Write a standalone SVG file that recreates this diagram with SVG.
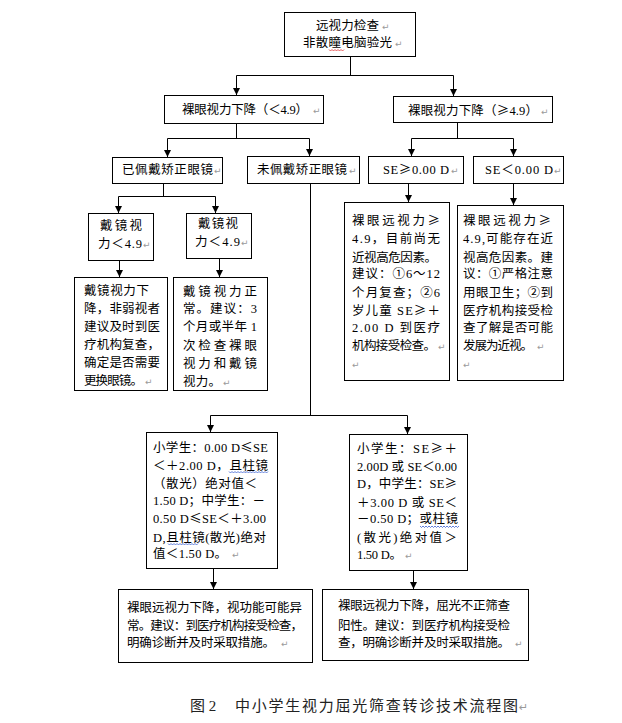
<svg xmlns="http://www.w3.org/2000/svg" width="622" height="723" viewBox="0 0 622 723">
<style>
.b{fill:#fff;stroke:#000;stroke-width:1}
.t{font-family:"Liberation Serif","Noto Sans CJK SC",serif;font-size:12.5px;fill:#000}
.k{font-family:"Noto Sans CJK SC",sans-serif}
.r{font-family:"DejaVu Sans",sans-serif;font-size:9px;fill:#9a9a9a}
.c{stroke:#000;stroke-width:1;fill:none}
.a{marker-end:url(#ah)}
.wr{stroke:#e03030;stroke-width:0.8;fill:none}
.wb{stroke:#3a5fd0;stroke-width:0.8;fill:none}
.cap{font-family:"Liberation Serif","Noto Sans CJK SC",serif;font-size:15px;fill:#222}
</style>
<defs>
<marker id="ah" markerUnits="userSpaceOnUse" markerWidth="7" markerHeight="7" refX="7" refY="3.5" orient="auto">
<path d="M0,0 L7,3.5 L0,7 z" fill="#000"/>
</marker>
</defs>
<rect width="622" height="723" fill="#fff"/>

<g id="connectors">
<path class="c" d="M350.5 56 V75.5"/>
<path class="c" d="M236.5 75.5 H453.5"/>
<path class="c a" d="M236.5 75.5 V95"/>
<path class="c a" d="M453.5 75.5 V96"/>
<path class="c" d="M236.5 123 V138.5"/>
<path class="c" d="M167.5 138.5 H309.5"/>
<path class="c a" d="M167.5 138.5 V157"/>
<path class="c a" d="M309.5 138.5 V156"/>
<path class="c" d="M457.5 122 V138.5"/>
<path class="c" d="M411.5 138.5 H513.5"/>
<path class="c a" d="M411.5 138.5 V156"/>
<path class="c a" d="M513.5 138.5 V156"/>
<path class="c" d="M163.5 183 V196.5"/>
<path class="c" d="M118.5 196.5 H215.5"/>
<path class="c a" d="M118.5 196.5 V213"/>
<path class="c a" d="M215.5 196.5 V213"/>
<path class="c a" d="M119.5 260 V277"/>
<path class="c a" d="M219.5 258 V277"/>
<path class="c a" d="M408.5 183 V202"/>
<path class="c a" d="M513.5 183 V205"/>
<path class="c" d="M310.5 183 V415.5"/>
<path class="c" d="M210.5 415.5 H407.5"/>
<path class="c a" d="M210.5 415.5 V432"/>
<path class="c a" d="M407.5 415.5 V434"/>
<path class="c a" d="M213.5 568 V589"/>
<path class="c a" d="M413.5 570 V589"/>
</g>

<g id="n-top">
<rect class="b" x="284.5" y="12.5" width="131" height="44"/>
<text class="t" x="316" y="30" textLength="63">远视力检查</text><text class="r" x="382" y="30">↵</text>
<text class="t" x="303" y="47" textLength="89">非散瞳电脑验光</text><text class="r" x="395" y="47">↵</text>
<path class="wr" d="M329 49.5 l1.5 1.5 l1.5 -1.5 l1.5 1.5 l1.5 -1.5 l1.5 1.5 l1.5 -1.5 l1.5 1.5 l1.5 -1.5 l1.5 1.5 l1.5 -1.5"/>
</g>

<g id="n-low">
<rect class="b" x="164.5" y="95.5" width="159" height="28"/>
<text class="t" x="182" y="114" textLength="126">裸眼视力下降（＜4.9）</text><text class="r" x="313" y="114">↵</text>
</g>

<g id="n-high">
<rect class="b" x="393.5" y="96.5" width="159" height="26"/>
<text class="t" x="408" y="115" textLength="130">裸眼视力下降（<tspan class="k">≥</tspan>4.9）</text><text class="r" x="541" y="115">↵</text>
</g>

<g id="n-glasses">
<rect class="b" x="112.5" y="157.5" width="110" height="26"/>
<text class="t" x="122" y="174" textLength="91">已佩戴矫正眼镜</text><text class="r" x="214" y="174">↵</text>
</g>

<g id="n-noglasses">
<rect class="b" x="247.5" y="156.5" width="112" height="27"/>
<text class="t" x="257" y="174" textLength="90">未佩戴矫正眼镜</text><text class="r" x="349" y="174">↵</text>
</g>

<g id="n-se-pos">
<rect class="b" x="368.5" y="156.5" width="95" height="27"/>
<text class="t" x="383" y="174" textLength="66">SE<tspan class="k">≥</tspan>0.00 D</text><text class="r" x="451" y="174">↵</text>
</g>

<g id="n-se-neg">
<rect class="b" x="473.5" y="156.5" width="90" height="27"/>
<text class="t" x="485" y="174" textLength="68">SE＜0.00 D</text><text class="r" x="554" y="174">↵</text>
</g>

<g id="n-gv1">
<rect class="b" x="88.5" y="213.5" width="65" height="47"/>
<text class="t" x="100" y="230" textLength="42">戴镜视</text>
<text class="t" x="98" y="248" textLength="44">力＜4.9</text><text class="r" x="143" y="248">↵</text>
</g>

<g id="n-gv2">
<rect class="b" x="186.5" y="213.5" width="65" height="45"/>
<text class="t" x="198" y="228" textLength="40">戴镜视</text>
<text class="t" x="195" y="246" textLength="45">力＜4.9</text><text class="r" x="241" y="246">↵</text>
</g>

<g id="n-advice1">
<rect class="b" x="74.5" y="277.5" width="93" height="113"/>
<text class="t" x="84" y="295" textLength="65">戴镜视力下</text>
<text class="t" x="84" y="313" textLength="76">降，非弱视者</text>
<text class="t" x="84" y="331" textLength="76">建议及时到医</text>
<text class="t" x="84" y="349" textLength="76">疗机构复查，</text>
<text class="t" x="84" y="367" textLength="76">确定是否需要</text>
<text class="t" x="84" y="385" textLength="59">更换眼镜。</text><text class="r" x="145" y="385">↵</text>
</g>

<g id="n-advice2">
<rect class="b" x="173.5" y="277.5" width="94" height="113"/>
<text class="t" x="183" y="296" textLength="74">戴镜视力正</text>
<text class="t" x="183" y="313" textLength="74">常。建议：3</text>
<text class="t" x="183" y="331" textLength="74">个月或半年 1</text>
<text class="t" x="183" y="350" textLength="74">次检查裸眼</text>
<text class="t" x="183" y="368" textLength="74">视力和戴镜</text>
<text class="t" x="183" y="386" textLength="38">视力。</text><text class="r" x="223" y="386">↵</text>
</g>

<g id="n-advice3">
<rect class="b" x="344.5" y="202.5" width="105" height="178"/>
<text class="t" x="352" y="225" textLength="88">裸眼远视力<tspan class="k">≥</tspan></text>
<text class="t" x="352" y="243" textLength="88">4.9，目前尚无</text>
<text class="t" x="352" y="262" textLength="85">近视高危因素。</text>
<text class="t" x="352" y="278" textLength="88">建议：①6～12</text>
<text class="t" x="352" y="297" textLength="88">个月复查；②6</text>
<text class="t" x="352" y="315" textLength="88">岁儿童 SE<tspan class="k">≥</tspan>＋</text>
<text class="t" x="352" y="332" textLength="88">2.00 D 到医疗</text>
<text class="t" x="352" y="350" textLength="84">机构接受检查。</text><text class="r" x="438" y="350">↵</text>
<text class="r" x="352" y="368">↵</text>
</g>

<g id="n-advice4">
<rect class="b" x="457.5" y="205.5" width="106" height="175"/>
<text class="t" x="463" y="225" textLength="88">裸眼远视力<tspan class="k">≥</tspan></text>
<text class="t" x="463" y="243" textLength="90">4.9,可能存在近</text>
<text class="t" x="463" y="262" textLength="90">视高危因素。建</text>
<text class="t" x="463" y="278" textLength="90">议：①严格注意</text>
<text class="t" x="463" y="297" textLength="90">用眼卫生；②到</text>
<text class="t" x="463" y="315" textLength="90">医疗机构接受检</text>
<text class="t" x="463" y="332" textLength="90">查了解是否可能</text>
<text class="t" x="463" y="350" textLength="70">发展为近视。</text><text class="r" x="537" y="350">↵</text>
<text class="r" x="463" y="368">↵</text>
</g>

<g id="n-normal">
<rect class="b" x="146.5" y="432.5" width="131" height="136"/>
<text class="t" x="153" y="452" textLength="115">小学生：0.00 D<tspan class="k">≤</tspan>SE</text>
<text class="t" x="153" y="470" textLength="115">＜＋2.00 D，且柱镜</text>
<text class="t" x="153" y="488" textLength="104">（散光）绝对值＜</text>
<text class="t" x="153" y="505" textLength="112">1.50 D；中学生：－</text>
<text class="t" x="153" y="523" textLength="113">0.50 D<tspan class="k">≤</tspan>SE＜＋3.00</text>
<text class="t" x="153" y="542" textLength="113">D,且柱镜(散光)绝对</text>
<text class="t" x="153" y="558" textLength="74">值＜1.50 D。</text><text class="r" x="232" y="558">↵</text>
<path class="wb" d="M229 471.5 l1.5 1.5 l1.5 -1.5 l1.5 1.5 l1.5 -1.5 l1.5 1.5 l1.5 -1.5 l1.5 1.5 l1.5 -1.5 l1.5 1.5 l1.5 -1.5 l1.5 1.5 l1.5 -1.5 l1.5 1.5 l1.5 -1.5 l1.5 1.5 l1.5 -1.5 l1.5 1.5 l1.5 -1.5 l1.5 1.5 l1.5 -1.5 l1.5 1.5 l1.5 -1.5 l1.5 1.5 l1.5 -1.5 l1.5 1.5 l1.5 -1.5"/>
<path class="wb" d="M168 543.5 l1.5 1.5 l1.5 -1.5 l1.5 1.5 l1.5 -1.5 l1.5 1.5 l1.5 -1.5 l1.5 1.5 l1.5 -1.5 l1.5 1.5 l1.5 -1.5 l1.5 1.5 l1.5 -1.5 l1.5 1.5 l1.5 -1.5 l1.5 1.5 l1.5 -1.5 l1.5 1.5 l1.5 -1.5 l1.5 1.5 l1.5 -1.5"/>
</g>

<g id="n-abnormal">
<rect class="b" x="349.5" y="434.5" width="118" height="136"/>
<text class="t" x="357" y="453" textLength="100">小学生：SE<tspan class="k">≥</tspan>＋</text>
<text class="t" x="357" y="471" textLength="100">2.00D 或 SE＜0.00</text>
<text class="t" x="357" y="488" textLength="100">D，中学生：SE<tspan class="k">≥</tspan></text>
<text class="t" x="357" y="507" textLength="100">＋3.00 D 或 SE＜</text>
<text class="t" x="357" y="523" textLength="101">－0.50 D；或柱镜</text>
<text class="t" x="357" y="542" textLength="100">(散光)绝对值＞</text>
<text class="t" x="357" y="559" textLength="45">1.50 D。</text><text class="r" x="405" y="559">↵</text>
<path class="wb" d="M420 526 l1.5 1.5 l1.5 -1.5 l1.5 1.5 l1.5 -1.5 l1.5 1.5 l1.5 -1.5 l1.5 1.5 l1.5 -1.5 l1.5 1.5 l1.5 -1.5 l1.5 1.5 l1.5 -1.5 l1.5 1.5 l1.5 -1.5 l1.5 1.5 l1.5 -1.5 l1.5 1.5 l1.5 -1.5 l1.5 1.5 l1.5 -1.5 l1.5 1.5 l1.5 -1.5 l1.5 1.5 l1.5 -1.5 l1.5 1.5 l1.5 -1.5"/>
</g>

<g id="n-func">
<rect class="b" x="118.5" y="589.5" width="194" height="73"/>
<text class="t" x="127" y="612" textLength="175">裸眼远视力下降，视功能可能异</text>
<text class="t" x="127" y="630" textLength="176">常。建议：到医疗机构接受检查，</text>
<text class="t" x="127" y="647" textLength="148">明确诊断并及时采取措施。</text><text class="r" x="281" y="647">↵</text>
</g>

<g id="n-refr">
<rect class="b" x="322.5" y="589.5" width="206" height="71"/>
<text class="t" x="338" y="610" textLength="172">裸眼远视力下降，屈光不正筛查</text>
<text class="t" x="338" y="630" textLength="172">阳性。建议：到医疗机构接受检</text>
<text class="t" x="338" y="647" textLength="172">查，明确诊断并及时采取措施。</text><text class="r" x="515" y="647">↵</text>
</g>

<g id="caption">
<text class="cap" x="190" y="711">图 2</text>
<text class="cap" x="235" y="711" textLength="283">中小学生视力屈光筛查转诊技术流程图</text>
<text class="r" x="519" y="711" style="font-size:11px">↵</text>
</g>
</svg>
